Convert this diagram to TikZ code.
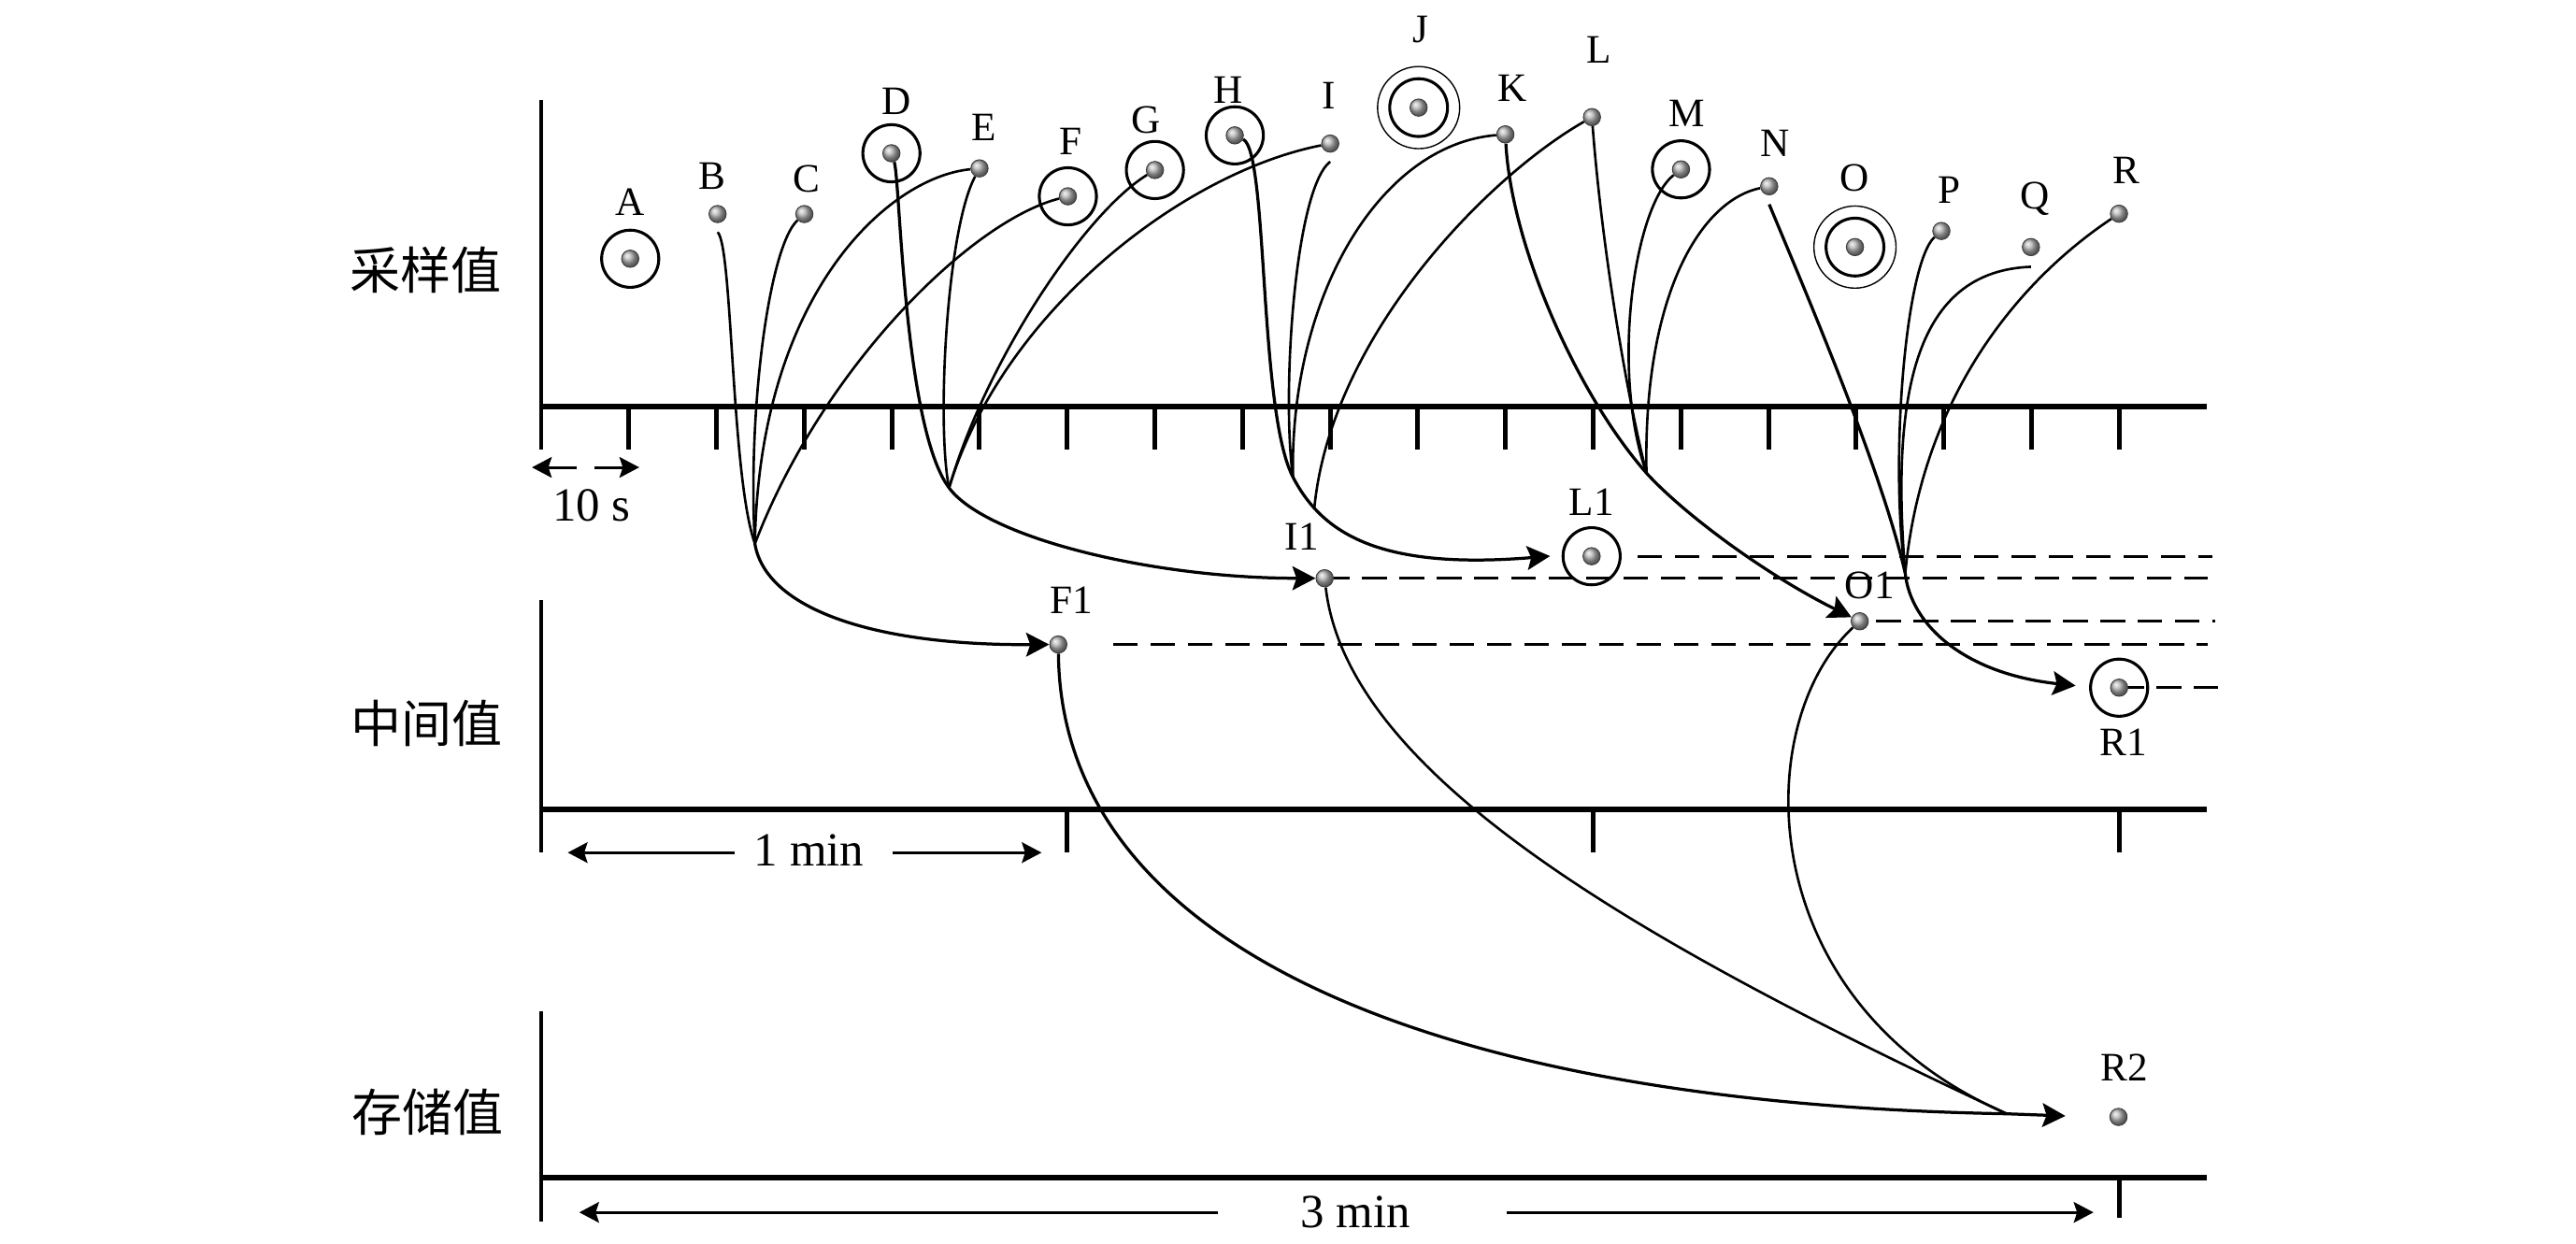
\documentclass[tikz,border=0pt]{standalone}
\usepackage{fontspec}
\setmainfont{Liberation Serif}
\newfontfamily\cjkfont{Noto Sans CJK SC}
\usetikzlibrary{arrows.meta,calc}
\begin{document}
\begin{tikzpicture}[x=0.02cm,y=-0.02cm,
  axisline/.style={line width=2pt},
  vaxis/.style={line width=1.6pt},
  tickmark/.style={line width=1.6pt},
  conn/.style={line width=0.85pt},
  arr/.style={line width=1.05pt,-{Stealth[length=0.28cm,width=0.29cm,inset=0.05cm]}},
  dimarr/.style={line width=1pt,-{Stealth[length=0.24cm,width=0.25cm,inset=0.04cm]}},
  ringline/.style={line width=1pt},
  outerring/.style={line width=0.45pt},
  sdot/.style={circle,minimum size=0.21cm,inner sep=0pt},
  lbl/.style={font=\fontsize{14pt}{16pt}\selectfont,inner sep=0pt,text height=9.27pt,text depth=0pt},
  dimlbl/.style={font=\fontsize{16.5pt}{18pt}\selectfont,inner sep=0pt,text height=11.15pt,text depth=0pt},
  cjk/.style={font=\cjkfont\fontsize{17.5pt}{20pt}\selectfont,inner sep=0pt},
  dashline/.style={line width=1pt,dash pattern=on 0.3cm off 0.155cm}]
\useasboundingbox (0,0) rectangle (1568,757);

% ---------- axes ----------
\draw[vaxis] (329.4,61) -- (329.4,273.6);
\draw[axisline] (329.4,247.4) -- (1343.3,247.4);
\foreach \k in {1,...,18} \draw[tickmark] ({329.4+53.36*\k},247.4) -- ({329.4+53.36*\k},273.6);

\draw[vaxis] (329.4,365) -- (329.4,519);
\draw[axisline] (329.4,492.5) -- (1343.3,492.5);
\foreach \k in {6,12,18} \draw[tickmark] ({329.4+53.36*\k},492.5) -- ({329.4+53.36*\k},518.6);

\draw[vaxis] (329.4,615.4) -- (329.4,743.4);
\draw[axisline] (329.4,716.8) -- (1343.3,716.8);
\draw[tickmark] (1289.9,716.8) -- (1289.9,741.3);

% ---------- axis labels ----------
\node[cjk] (y1) at (259.2,164.6) {采样值};
\node[cjk] (y2) at (259.8,440.2) {中间值};
\node[cjk] (y3) at (260.5,677) {存储值};

% ---------- dimension arrows ----------
\coordinate (s10a) at (351,284.5);  \coordinate (s10at) at (323.8,284.5);
\coordinate (s10b) at (361.9,284.5); \coordinate (s10bt) at (389.1,284.5);
\draw[dimarr] (s10a) -- (s10at);
\draw[dimarr] (s10b) -- (s10bt);
\node[dimlbl] (t10s) at (360,307.4) {10 s};

\coordinate (m1a) at (447,519);   \coordinate (m1at) at (345.6,519);
\coordinate (m1b) at (543.3,519); \coordinate (m1bt) at (634,519);
\draw[dimarr] (m1a) -- (m1at);
\draw[dimarr] (m1b) -- (m1bt);
\node[dimlbl] (t1min) at (492.5,517.5) {1 min};

\coordinate (m3a) at (741.5,738);   \coordinate (m3at) at (352.6,738);
\coordinate (m3b) at (916.9,738);   \coordinate (m3bt) at (1274.3,738);
\draw[dimarr] (m3a) -- (m3at);
\draw[dimarr] (m3b) -- (m3bt);
\node[dimlbl] (t3min) at (825,737.7) {3 min};

% ---------- sample dots (named positions) ----------
\node[sdot] (A) at (383.6,157.5) {};
\node[sdot] (B) at (436.8,130.3) {};
\node[sdot] (C) at (489.6,130.3) {};
\node[sdot] (D) at (542.6,93.3) {};
\node[sdot] (E) at (596.2,102.5) {};
\node[sdot] (F) at (650,119.5) {};
\node[sdot] (G) at (703,103.5) {};
\node[sdot] (H) at (751.6,82.4) {};
\node[sdot] (I) at (809.7,87.4) {};
\node[sdot] (J) at (863.5,65.5) {};
\node[sdot] (K) at (916.3,81.8) {};
\node[sdot] (L) at (969,71.3) {};
\node[sdot] (M) at (1023.2,103.1) {};
\node[sdot] (N) at (1076.9,113.4) {};
\node[sdot] (O) at (1129.1,150.4) {};
\node[sdot] (P) at (1181.7,140.6) {};
\node[sdot] (Q) at (1236.2,150.4) {};
\node[sdot] (R) at (1289.8,130.1) {};

\node[sdot] (F1) at (644.2,392.3) {};
\node[sdot] (I1) at (806.3,352) {};
\node[sdot] (L1) at (968.8,338.6) {};
\node[sdot] (O1) at (1132,378.2) {};
\node[sdot] (R1) at (1289.9,418.6) {};
\node[sdot] (R2) at (1289.5,679.9) {};

% ---------- junction / end coordinates ----------
\coordinate (cp1) at (459.5,331);
\coordinate (cp2) at (577.7,297);
\coordinate (cp3) at (787,290.4);
\coordinate (cp3b) at (800,309.5);
\coordinate (cp4) at (1002.2,288);
\coordinate (cp5) at (1159.7,349);
\coordinate (cp6) at (1221.6,678);
\coordinate (l1tip) at (943.5,338.5);
\coordinate (r1tip) at (1263.4,417.4);
\coordinate (r2tip) at (1257.2,679.3);

\coordinate (f1s) at (677.6,392.3); \coordinate (f1e) at (1344,392.3);
\coordinate (i1e) at (1344,352);
\coordinate (l1s) at (996.8,338.6); \coordinate (l1e) at (1346.8,338.6);
\coordinate (o1s) at (1142,378.2);  \coordinate (o1e) at (1348.6,378.2);
\coordinate (r1e) at (1350,418.6);

% ---------- dashed levels ----------
\draw[dashline] (f1s) -- (f1e);
\draw[dashline] (I1.center) -- (i1e);
\draw[dashline] (l1s) -- (l1e);
\draw[dashline] (o1s) -- (o1e);
\draw[dashline] (R1.center) -- (r1e);

% ---------- F1 group ----------
\draw[conn] ($(B)+(0,11)$) .. controls (446,150) and (445,290) .. (cp1);
\draw[conn] (C) .. controls (468,150) and (455,250) .. (cp1);
\draw[conn] (E) .. controls (540,108) and (462,180) .. (cp1);
\draw[conn] (F) .. controls (590,135) and (500,225) .. (cp1);
\draw[arr] (cp1) .. controls (466,370) and (530,393) .. (F1);

% ---------- I1 group ----------
\draw[arr] (D) .. controls (548,110) and (550,260) .. (cp2) .. controls (600,327) and (700,352) .. (I1);
\draw[conn] (E) .. controls (576,140) and (570,260) .. (cp2);
\draw[conn] (G) .. controls (660,130) and (600,220) .. (cp2);
\draw[conn] (I) .. controls (720,105) and (610,190) .. (cp2);

% ---------- L1 group ----------
\draw[arr] (H) .. controls (772,92) and (766,250) .. (cp3) .. controls (805,325) and (840,347) .. (l1tip);
\draw[conn] ($(I)+(0,11)$) .. controls (788,115) and (780,240) .. (cp3);
\draw[conn] (K) .. controls (840,88) and (785,180) .. (cp3);
\draw[conn] (L) .. controls (905,108) and (810,205) .. (cp3b);

% ---------- O1 group ----------
\draw[arr] (K) .. controls (920,150) and (960,240) .. (cp4) .. controls (1025,313) and (1075,350) .. (O1);
\draw[conn] (L) .. controls (975,150) and (990,240) .. (cp4);
\draw[conn] (M) .. controls (995,125) and (980,225) .. (cp4);
\draw[conn] (N) .. controls (1035,122) and (1000,180) .. (cp4);

% ---------- R1 group ----------
\draw[arr] ($(N)+(0,11)$) .. controls (1100,180) and (1145,285) .. (cp5) .. controls (1163,380) and (1195,410) .. (r1tip);
\draw[conn] (P) .. controls (1160,160) and (1150,280) .. (cp5);
\draw[conn] ($(Q)+(0,12)$) .. controls (1170,165) and (1150,230) .. (cp5);
\draw[conn] (R) .. controls (1230,170) and (1170,240) .. (cp5);

% ---------- storage ----------
\draw[arr] (F1) .. controls (646,580) and (880,672) .. (cp6) -- (r2tip);
\draw[conn] (I1) .. controls (820,470) and (990,570) .. (cp6);
\draw[conn] (O1) .. controls (1065,440) and (1065,610) .. (cp6);

% ---------- rings ----------
\foreach \n in {A,D,F,G,H,M,L1,R1} \draw[ringline] (\n.center) circle[radius=0.348cm];
\foreach \n in {J,O} {
  \draw[ringline] (\n.center) circle[radius=0.352cm];
  \draw[outerring] (\n.center) circle[radius=0.5cm];
}

% ---------- shaded dots on top ----------
\foreach \n in {A,B,C,D,E,F,G,H,I,J,K,L,M,N,O,P,Q,R,F1,I1,L1,O1,R1,R2} {
  \fill[shading=ball,ball color=gray!60] (\n.center) circle[radius=0.105cm];
  \draw[black!75,line width=0.3pt] (\n.center) circle[radius=0.105cm];
}

% ---------- point labels ----------
\node[lbl] (tA) at (383.3,123) {A};
\node[lbl] (tB) at (433.5,107) {B};
\node[lbl] (tC) at (491,109) {C};
\node[lbl] (tD) at (545.5,61.5) {D};
\node[lbl] (tE) at (598.7,77.5) {E};
\node[lbl] (tF) at (652,86) {F};
\node[lbl] (tG) at (697.6,73) {G};
\node[lbl] (tH) at (747.5,54.5) {H};
\node[lbl] (tI) at (809,58) {I};
\node[lbl] (tJ) at (865,18) {J};
\node[lbl] (tK) at (920.5,53.4) {K};
\node[lbl] (tL) at (973,30.5) {L};
\node[lbl] (tM) at (1026.8,68.7) {M};
\node[lbl] (tN) at (1080.2,87.2) {N};
\node[lbl] (tO) at (1129,108) {O};
\node[lbl] (tP) at (1186.5,115.5) {P};
\node[lbl] (tQ) at (1238.7,119) {Q};
\node[lbl] (tR) at (1294,103.6) {R};

\node[lbl] (tF1) at (652.2,365.5) {F1};
\node[lbl] (tI1) at (792.5,326.6) {I1};
\node[lbl] (tL1) at (968.8,305.7) {L1};
\node[lbl] (tO1) at (1138,356.2) {O1};
\node[lbl] (tR1) at (1292.4,451.8) {R1};
\node[lbl] (tR2) at (1293.2,649.9) {R2};
\end{tikzpicture}
\end{document}
